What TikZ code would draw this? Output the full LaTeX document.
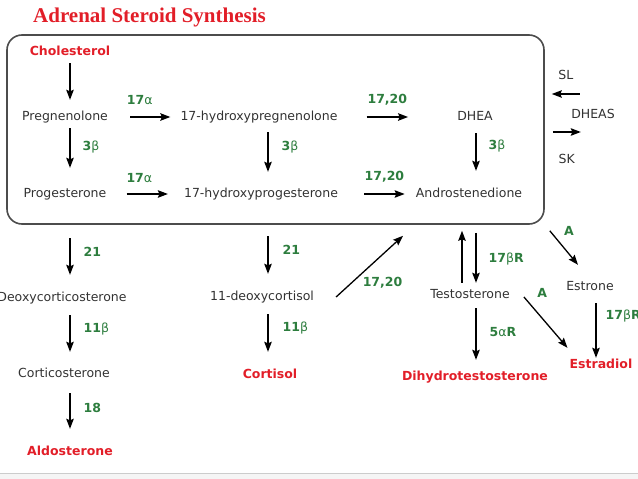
\documentclass[tikz,border=0pt]{standalone}
\usepackage{fontspec}
\setmainfont{DejaVu Sans}
\newfontfamily\titlefont{Liberation Serif}
\usetikzlibrary{positioning, arrows.meta}
\definecolor{hormred}{RGB}{226,30,40}
\definecolor{enzgreen}{RGB}{45,125,62}
\definecolor{txtgray}{RGB}{50,50,50}
\tikzset{
  >={Stealth[length=10pt,width=7.5pt,inset=1.5pt]},
  every node/.style={inner sep=0pt, text height=9pt, text depth=3pt,
    font=\fontsize{12.5}{15}\selectfont},
  chem/.style={text=txtgray},
  hormone/.style={text=hormred, font=\fontsize{12.5}{15}\selectfont\bfseries},
  enz/.style={text=enzgreen, font=\fontsize{12.5}{15}\selectfont\bfseries},
  conv/.style={->, line width=1.3pt},
  box/.style={draw=black!70, line width=1.6pt, rounded corners=15pt,
    minimum width=537pt, minimum height=189pt},
}

\begin{document}
\begin{tikzpicture}[x=1pt, y=-1pt]
      \useasboundingbox (0,0) rectangle (638,479);
      \fill[black!4] (0,473) rectangle (638,479);
      \draw[black!20] (0,473) -- (638,473);

      \node[anchor=base west, text=hormred,
            font=\titlefont\fontsize{21}{24}\selectfont\bfseries] (title) at (33,22.5) {Adrenal Steroid Synthesis};
      \node[box] (box) at (275.5,129.5) {};

      \coordinate (cA) at (70,0);
      \coordinate (cB) at (268,0);
      \coordinate (cC) at (476,0);
      \coordinate (cU) at (462,0);
      \coordinate (cD) at (596,0);
      \coordinate (cE) at (403,0);

      \node[hormone] (chol)      at (70,53)   {Cholesterol};
      \node[chem]    (preg)      at (65,117)  {Pregnenolone};
      \node[chem]    (hpreg)     at (259,117) {17-hydroxypregnenolone};
      \node[chem]    (dhea)      at (475,117) {DHEA};
      \node[chem]    (prog)      at (65,194)  {Progesterone};
      \node[chem]    (hprog)     at (261,194) {17-hydroxyprogesterone};
      \node[chem]    (andro)     at (469,194) {Androstenedione};
      \node[chem]    (dheas)     at (593,115) {DHEAS};
      \node[chem]    (doc)       at (62,298)  {Deoxycorticosterone};
      \node[chem]    (cort)      at (64,374)  {Corticosterone};
      \node[hormone] (aldo)      at (70,452)  {Aldosterone};
      \node[chem]    (dcort)     at (262,297) {11-deoxycortisol};
      \node[hormone] (cortisol)  at (270,375) {Cortisol};
      \node[chem]    (testo)     at (470,295) {Testosterone};
      \node[hormone] (dht)       at (475,377) {Dihydrotestosterone};
      \node[chem]    (estrone)   at (590,287) {Estrone};
      \node[hormone] (estradiol) at (601,365) {Estradiol};

      \draw[conv, shorten <=4pt, shorten >=11pt] (chol.south -| cA) -- (preg.north -| cA);
      \draw[conv, shorten <=5pt, shorten >=20pt] (preg.south -| cA)
            -- node[enz, pos=0.37, right=12pt] {3{\mdseries β}} (prog.north -| cA);
      \draw[conv, shorten <=38pt, shorten >=17pt] (prog.south -| cA)
            -- node[enz, pos=0.58, right=13pt] {21} (doc.north -| cA);
      \draw[conv, shorten <=11pt, shorten >=16pt] (doc.south -| cA)
            -- node[enz, pos=0.39, right=13pt] {11{\mdseries β}} (cort.north -| cA);
      \draw[conv, shorten <=13pt, shorten >=17pt] (cort.south -| cA)
            -- node[enz, pos=0.45, right=13pt] {18} (aldo.north -| cA);

      \draw[conv, shorten <=9pt, shorten >=16pt] (hpreg.south -| cB)
            -- node[enz, pos=0.37, right=13pt] {3{\mdseries β}} (hprog.north -| cB);
      \draw[conv, shorten <=36pt, shorten >=17pt] (hprog.south -| cB)
            -- node[enz, pos=0.57, right=14pt] {21} (dcort.north -| cB);
      \draw[conv, shorten <=11pt, shorten >=17pt] (dcort.south -| cB)
            -- node[enz, pos=0.39, right=14pt] {11{\mdseries β}} (cortisol.north -| cB);

      \draw[conv, shorten <=10pt, shorten >=17pt] (dhea.south -| cC)
            -- node[enz, pos=0.36, right=12pt] {3{\mdseries β}} (andro.north -| cC);

      \draw[conv] ([xshift=22pt]preg.east)
            -- node[enz, pos=0.24, above=9pt] {17{\mdseries α}} ([xshift=-10pt]hpreg.west);
      \draw[conv] ([xshift=29pt]hpreg.east)
            -- node[enz, midway, above=10pt] {17,20} ([xshift=-49pt]dhea.west);
      \draw[conv] ([xshift=20pt]prog.east)
            -- node[enz, pos=0.31, above=8pt] {17{\mdseries α}} ([xshift=-16pt]hprog.west);
      \draw[conv] ([xshift=26pt]hprog.east)
            -- node[enz, midway, above=10pt] {17,20} ([xshift=-11pt]andro.west);

      \draw[conv] ([shift={(35,-35.5)}]box.east)
            -- node[chem, midway, above=11pt] {SL} ([shift={(7,-35.5)}]box.east);
      \draw[conv] ([shift={(8,2.5)}]box.east)
            -- node[chem, midway, below=22pt] {SK} ([shift={(36,2.5)}]box.east);

      \draw[conv] ([xshift=22pt]dcort.east)
            -- node[enz, midway, shift={(13,17)}] {17,20} ([yshift=-11pt]box.south -| cE);
      \draw[conv, shorten <=6pt, shorten >=6pt] (testo.north -| cU) -- (box.south -| cU);
      \draw[conv, shorten <=8pt, shorten >=6pt] (box.south -| cC)
            -- node[enz, pos=0.54, right=12pt] {17{\mdseries β}R} (testo.north -| cC);
      \draw[conv, shorten <=7pt, shorten >=11pt] (testo.south -| cC)
            -- node[enz, pos=0.46, right=13pt] {5{\mdseries α}R} (dht.north -| cC);

      \draw[conv] ([shift={(5,6)}]box.south east)
            -- node[enz, midway, shift={(5,-15)}] {A} ([shift={(-12,-16)}]estrone.north);
      \draw[conv] ([shift={(14,2)}]testo.east)
            -- node[enz, midway, shift={(-3.5,-27.5)}] {A} ([shift={(-2,-11)}]estradiol.north west);
      \draw[conv, shorten <=10pt, shorten >=1pt] (estrone.south -| cD)
            -- node[enz, pos=0.36, right=9pt] {17{\mdseries β}R} (estradiol.north -| cD);
\end{tikzpicture}
\end{document}
